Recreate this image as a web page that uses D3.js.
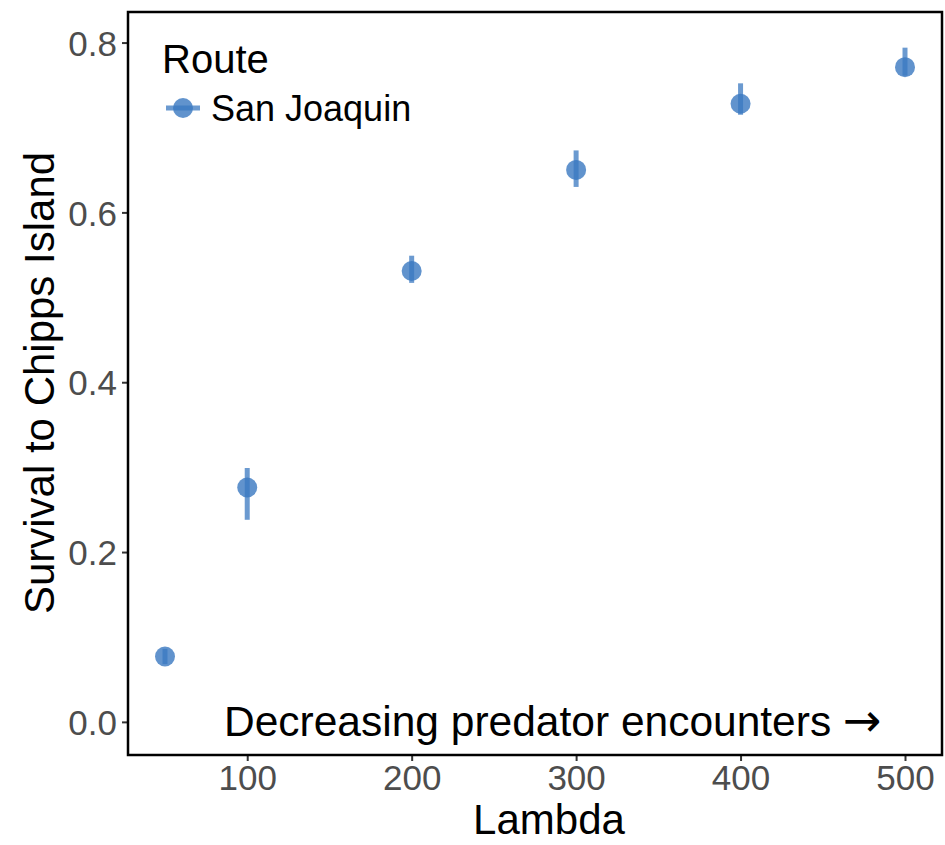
<!DOCTYPE html>
<html lang="en">
<head>
	<meta charset="UTF-8"/>
	<title>Survival vs Lambda</title>
	<script src="https://d3js.org/d3.v7.min.js"></script>
	<style>
		body { margin: 0; background: #fff; }
		svg { font-family: "Liberation Sans", Arial, sans-serif; }
	</style>
</head>
<body>
	<script>
		// data
		var lambdas  = [50, 100, 200, 300, 400, 500];
		var survival = [0.077, 0.276, 0.531, 0.650, 0.728, 0.771];
		var lower    = [0.068, 0.238, 0.517, 0.630, 0.715, 0.761];
		var upper    = [0.086, 0.299, 0.549, 0.673, 0.752, 0.794];
		var xTicks = [100, 200, 300, 400, 500];
		var yTicks = [0.0, 0.2, 0.4, 0.6, 0.8];
		var routeName = "San Joaquin";

		var w = 945;
		var h = 845;
		var panel = {left: 128, right: 942, top: 12, bottom: 755};
		var col = "#3a78c0";

		var xScale = d3.scaleLinear()
						.domain([27.5, 522.5])
						.range([panel.left, panel.right]);

		var yScale = d3.scaleLinear()
						.domain([-0.039, 0.836])
						.range([panel.bottom, panel.top]);

		var svg = d3.select("body")
					.append("svg")
					.attr("width", w)
					.attr("height", h);

		var data = lambdas.map(function(d, i) {
			return {x: d, y: survival[i], lo: lower[i], hi: upper[i]};
		});

		//axes
		var xAxis = d3.axisBottom(xScale)
					.tickValues(xTicks)
					.tickSize(6)
					.tickPadding(4);

		var yAxis = d3.axisLeft(yScale)
					.tickValues(yTicks)
					.tickFormat(d3.format(".1f"))
					.tickSize(6)
					.tickPadding(5);

		var gx = svg.append("g")
			.attr("transform", "translate(0," + panel.bottom + ")")
			.call(xAxis);

		var gy = svg.append("g")
			.attr("transform", "translate(" + panel.left + ",0)")
			.call(yAxis);

		[gx, gy].forEach(function(g) {
			g.select(".domain").remove();
			g.selectAll(".tick line").attr("stroke", "#333").attr("stroke-width", 2);
			g.selectAll(".tick text")
				.attr("fill", "#4d4d4d")
				.style("font-size", "35px");
		});
		gx.selectAll(".tick text").attr("dy", "0.71em");
		gy.selectAll(".tick text").attr("dy", "0.36em");

		//error bars
		svg.selectAll("line.err")
			.data(data)
			.enter()
			.append("line")
			.attr("class", "err")
			.attr("x1", function(d) { return xScale(d.x); })
			.attr("x2", function(d) { return xScale(d.x); })
			.attr("y1", function(d) { return yScale(d.lo); })
			.attr("y2", function(d) { return yScale(d.hi); })
			.attr("stroke", col)
			.attr("stroke-opacity", 0.75)
			.attr("stroke-width", 5);

		//points
		svg.selectAll("circle.pt")
			.data(data)
			.enter()
			.append("circle")
			.attr("class", "pt")
			.attr("cx", function(d) { return xScale(d.x); })
			.attr("cy", function(d) { return yScale(d.y); })
			.attr("r", 10)
			.attr("fill", col)
			.attr("fill-opacity", 0.8);

		//panel border
		svg.append("rect")
			.attr("x", panel.left)
			.attr("y", panel.top)
			.attr("width", panel.right - panel.left)
			.attr("height", panel.bottom - panel.top)
			.attr("fill", "none")
			.attr("stroke", "#000")
			.attr("stroke-width", 2.5);

		//legend
		svg.append("text")
			.attr("x", 162)
			.attr("y", 73)
			.style("font-size", "40px")
			.attr("fill", "#000")
			.text("Route");

		svg.append("line")
			.attr("x1", 166).attr("x2", 200)
			.attr("y1", 108).attr("y2", 108)
			.attr("stroke", col)
			.attr("stroke-opacity", 0.75)
			.attr("stroke-width", 5);

		svg.append("circle")
			.attr("cx", 183).attr("cy", 108)
			.attr("r", 10)
			.attr("fill", col)
			.attr("fill-opacity", 0.8);

		svg.append("text")
			.attr("x", 211)
			.attr("y", 121)
			.style("font-size", "36px")
			.attr("fill", "#000")
			.text(routeName);

		//annotation
		var note = svg.append("text")
			.attr("x", 224)
			.attr("y", 736)
			.style("font-size", "42.5px")
			.attr("fill", "#000");
		note.append("tspan").text("Decreasing predator encounters ");
		note.append("tspan")
			.style("font-family", "'DejaVu Sans', sans-serif")
			.style("font-size", "46px")
			.text("\u2192");

		//axis titles
		svg.append("text")
			.attr("text-anchor", "middle")
			.attr("x", 549)
			.attr("y", 834)
			.style("font-size", "42px")
			.attr("fill", "#000")
			.text("Lambda");

		svg.append("text")
			.attr("text-anchor", "middle")
			.attr("transform", "rotate(-90)")
			.attr("x", -383)
			.attr("y", 54)
			.style("font-size", "42px")
			.attr("fill", "#000")
			.text("Survival to Chipps Island");
	</script>
</body>
</html>
